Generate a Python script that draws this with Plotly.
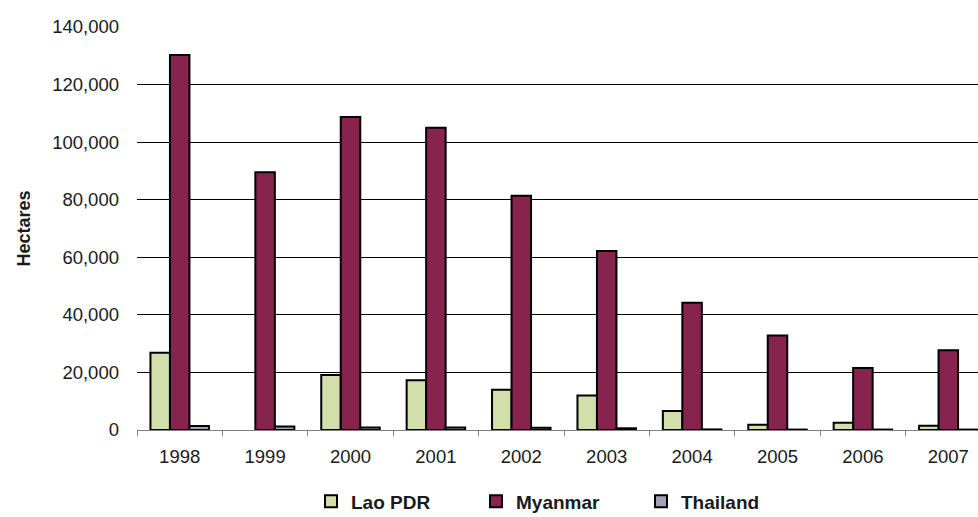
import plotly.graph_objects as go

# Opium poppy cultivation in the Golden Triangle (hectares)
years = ["1998", "1999", "2000", "2001", "2002", "2003", "2004", "2005", "2006", "2007"]
lao_pdr = [26800, None, 19100, 17300, 14000, 12000, 6600, 1800, 2500, 1500]
myanmar = [130300, 89500, 108700, 105000, 81400, 62200, 44200, 32800, 21500, 27700]
thailand = [1400, 1200, 900, 850, 800, 600, 200, 150, 150, 150]

y_ticks = [0, 20000, 40000, 60000, 80000, 100000, 120000, 140000]

series = [
    ("Lao PDR", lao_pdr, "#D3DFAA"),
    ("Myanmar", myanmar, "#87234F"),
    ("Thailand", thailand, "#9FA3B8"),
]

FONT = "Arial, Liberation Sans, sans-serif"
idx = list(range(len(years)))

fig = go.Figure()
for name, vals, color in series:
    fig.add_trace(go.Bar(
        x=idx, y=vals, name=name,
        marker=dict(color=color, line=dict(color="#000000", width=2)),
    ))

fig.update_layout(
    barmode="group",
    bargap=0.315,
    bargroupgap=0,
    width=978, height=517,
    margin=dict(l=137, r=0, t=27, b=87),
    paper_bgcolor="white",
    plot_bgcolor="white",
    font=dict(family=FONT, size=18, color="#1a1a1a"),
    showlegend=True,
    legend=dict(
        orientation="h",
        xref="container", yref="container",
        x=0.318, y=0.03, xanchor="left", yanchor="middle",
        entrywidth=120, entrywidthmode="pixels",
        font=dict(family=FONT, size=19, color="#1a1a1a", weight="bold"),
        traceorder="normal",
    ),
    xaxis=dict(
        range=[-0.5, -0.5 + 841 / 85.4],
        tickmode="array",
        tickvals=idx,
        ticktext=years,
        ticks="",
        showgrid=False,
        showline=True,
        linecolor="#808080",
        linewidth=1,
        ticklabelstandoff=10,
        tickfont=dict(size=18.5),
        minor=dict(
            tickmode="array",
            tickvals=[i - 0.5 for i in idx],
            ticks="outside",
            ticklen=5,
            tickcolor="#808080",
            tickwidth=1,
            showgrid=False,
        ),
        zeroline=False,
        fixedrange=True,
    ),
    yaxis=dict(
        range=[0, 140000],
        tickmode="array",
        tickvals=y_ticks,
        ticktext=[f"{v:,}" for v in y_ticks],
        showgrid=True,
        gridcolor="#000000",
        gridwidth=1,
        showline=False,
        zeroline=False,
        ticks="",
        ticklabelstandoff=17,
        tickfont=dict(size=18.5),
        title=dict(
            text="<b>Hectares</b>",
            font=dict(size=18, family=FONT),
            standoff=16,
        ),
        fixedrange=True,
    ),
)

fig.write_html("out.html")
